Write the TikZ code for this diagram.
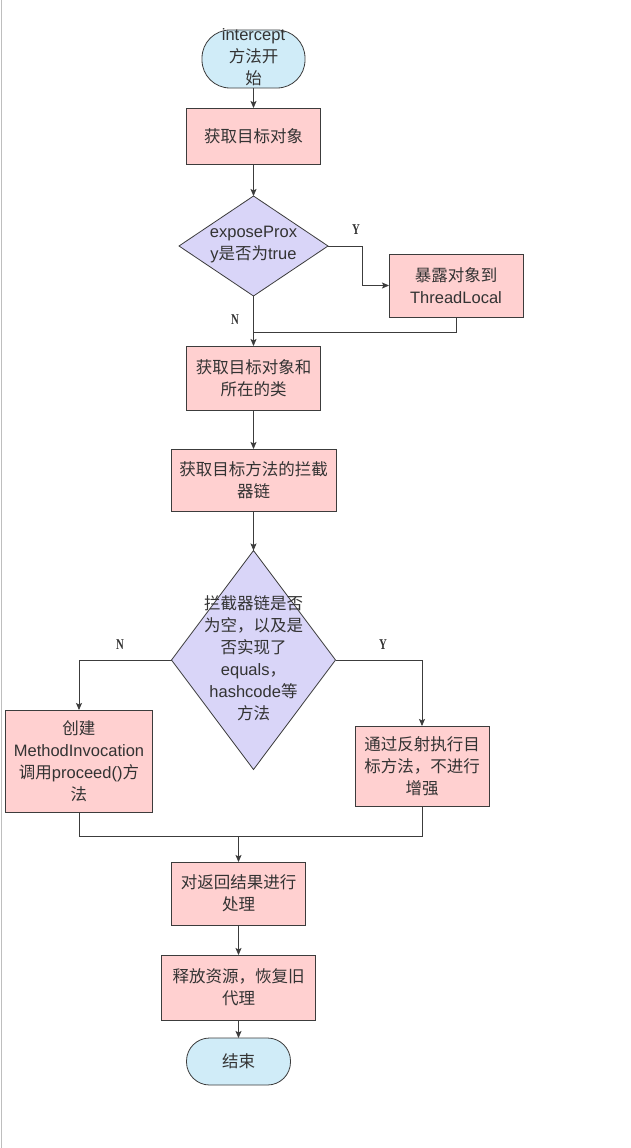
\documentclass[tikz,border=0pt]{standalone}
\usepackage{fontspec}
\setmainfont{Liberation Sans}
\newfontfamily\cjk{Noto Sans CJK SC}
\newfontfamily\ynfont{Liberation Serif}
\usetikzlibrary{arrows.meta,shapes.geometric}
\newcommand{\zh}[1]{{\cjk #1}}
\newcommand{\ynl}[1]{\scalebox{0.72}[1]{#1}}
\definecolor{boxpink}{RGB}{255,208,208}
\definecolor{diamlav}{RGB}{217,213,248}
\definecolor{termblue}{RGB}{208,236,248}
\definecolor{txt}{RGB}{51,51,51}
\definecolor{edge}{RGB}{60,60,60}
\begin{document}
\begin{tikzpicture}[x=1pt,y=-1pt,
  every node/.style={text=txt},
  proc/.style={rectangle,draw=edge,fill=boxpink,line width=0.8pt,outer sep=0pt,inner sep=2pt,
    align=center,font=\fontsize{16.5}{22}\selectfont},
  term/.style={rectangle,rounded corners=23pt,draw=edge,fill=termblue,line width=0.8pt,outer sep=0pt,inner sep=0pt},
  dec/.style={diamond,draw=edge,fill=diamlav,line width=0.8pt,outer sep=0pt,inner sep=0pt},
  lbl/.style={align=center,inner sep=0pt,font=\fontsize{16.5}{22}\selectfont},
  yn/.style={inner sep=0pt,font=\fontsize{15}{15}\ynfont\bfseries},
  conn/.style={draw=edge,line width=0.8pt},
  arr/.style={conn,-{Stealth[length=7pt,width=6pt,inset=1.5pt]}}
]
\useasboundingbox (0,0) rectangle (630,1148);
\fill[white] (0,0) rectangle (630,1148);
\draw[draw={rgb,255:red,190;green,190;blue,190},line width=1.5pt] (1.5,0) -- (1.5,1148);

% nodes
\node[term,minimum width=103,minimum height=58,rounded corners=28pt] (start) at (253.5,59) {};
\node[lbl] (startt) at (253.5,57.5) {intercept\\\zh{方法开}\\\zh{始}};
\node[proc,minimum width=134,minimum height=56] (b1) at (253.5,136) {\zh{获取目标对象}};
\node[dec,minimum width=149,minimum height=100] (d1) at (253.5,246) {};
\node[lbl] (d1t) at (253.5,245) {exposeProx\\y\zh{是否为}true};
\node[proc,minimum width=134,minimum height=63] (b2) at (456,285.5) {\zh{暴露对象到}\\ThreadLocal};
\node[proc,minimum width=134,minimum height=64] (b3) at (253.5,378) {\zh{获取目标对象和}\\\zh{所在的类}};
\node[proc,minimum width=165,minimum height=62] (b4) at (253.5,480) {\zh{获取目标方法的拦截}\\\zh{器链}};
\node[dec,minimum width=164,minimum height=219] (d2) at (253.5,660) {};
\node[lbl] (d2t) at (253.5,658) {\zh{拦截器链是否}\\\zh{为空，以及是}\\\zh{否实现了}\\equals\zh{，}\\hashcode\zh{等}\\\zh{方法}};
\node[proc,minimum width=147,minimum height=102] (b5) at (79,761) {\zh{创建}\\MethodInvocation\\\zh{调用}proceed()\zh{方}\\\zh{法}};
\node[proc,minimum width=134,minimum height=80] (b6) at (422,766) {\zh{通过反射执行目}\\\zh{标方法，不进行}\\\zh{增强}};
\node[proc,minimum width=134,minimum height=63] (b7) at (238.5,893.5) {\zh{对返回结果进行}\\\zh{处理}};
\node[proc,minimum width=154,minimum height=65] (b8) at (238.5,987.5) {\zh{释放资源，恢复旧}\\\zh{代理}};
\node[term,minimum width=104,minimum height=47] (end) at (238.5,1061.5) {};
\node[lbl] (endt) at (238.5,1061.5) {\zh{结束}};

% labels
\node[yn] (ly1) at (356,230) {\ynl{Y}};
\node[yn] (ln1) at (235,320) {\ynl{N}};
\node[yn] (ln2) at (120,645) {\ynl{N}};
\node[yn] (ly2) at (383,645) {\ynl{Y}};

% coordinates
\coordinate (j1) at (253.5,332);
\coordinate (j2) at (238.5,836);

% connectors
\draw[arr] (start.south) -- (b1.north);
\draw[arr] (b1.south) -- (d1.north);
\draw[arr] (d1.east) -- ++(34,0) |- (b2.west);
\draw[conn] (b2.south) |- (j1);
\draw[arr] (d1.south) -- (b3.north);
\draw[arr] (b3.south) -- (b4.north);
\draw[arr] (b4.south) -- (d2.north);
\draw[arr] (d2.west) -| (b5.north);
\draw[arr] (d2.east) -| (b6.north);
\draw[conn] (b5.south) |- (j2) -| (b6.south);
\draw[arr] (j2) -- (b7.north);
\draw[arr] (b7.south) -- (b8.north);
\draw[arr] (b8.south) -- (end.north);
\end{tikzpicture}
\end{document}
